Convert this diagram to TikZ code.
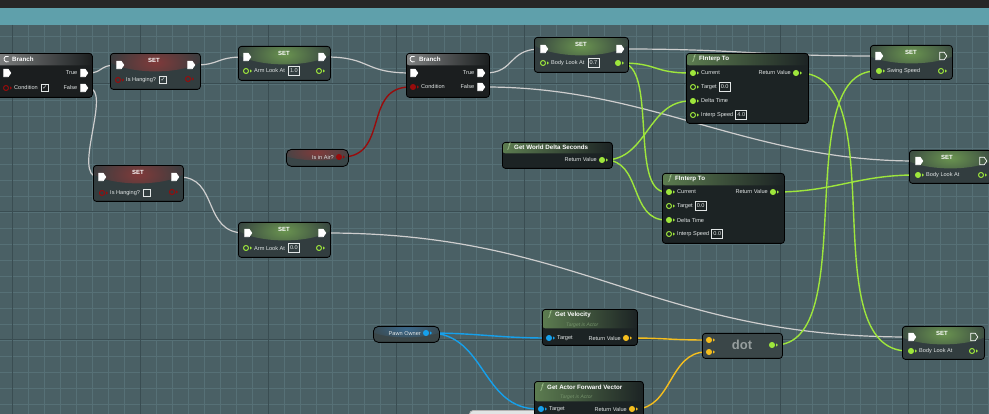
\documentclass[tikz,border=0pt]{standalone}
\usepackage{fontspec}
\setmainfont{Liberation Sans}
\newfontfamily\symfont{DejaVu Sans}
\usetikzlibrary{positioning, shapes.symbols}

\definecolor{topdark}{RGB}{38,38,38}
\definecolor{topbar}{RGB}{95,160,171}
\definecolor{gridbg}{RGB}{74,96,101}
\definecolor{gridminor}{RGB}{86,112,118}
\definecolor{gridmajor}{RGB}{58,77,82}
\definecolor{setbody}{RGB}{50,61,63}
\definecolor{getbody}{RGB}{58,70,72}
\definecolor{fnbody}{RGB}{28,35,36}
\definecolor{brbody}{RGB}{27,30,31}
\definecolor{brhead}{RGB}{128,130,130}
\definecolor{fnhead}{RGB}{92,124,80}
\definecolor{glowred}{RGB}{128,58,58}
\definecolor{glowgreen}{RGB}{106,148,80}
\definecolor{glowblue}{RGB}{58,104,140}
\definecolor{pintext}{RGB}{226,230,230}
\definecolor{fsymcol}{RGB}{190,225,170}
\definecolor{subcol}{RGB}{118,148,108}
\definecolor{dottxt}{RGB}{150,158,158}
\definecolor{execwire}{RGB}{206,206,206}
\definecolor{floatcol}{RGB}{158,230,60}
\definecolor{boolcol}{RGB}{152,12,12}
\definecolor{objcol}{RGB}{22,160,235}
\definecolor{veccol}{RGB}{245,190,30}
\definecolor{hidbody}{RGB}{225,228,228}

\newcommand{\bppinfont}{\fontsize{5.6}{6}\selectfont}
\newcommand{\bptitlefont}{\fontsize{6.2}{7}\selectfont\bfseries}
\newcommand{\bpsetfont}{\fontsize{6}{6}\selectfont\bfseries}
\newcommand{\bpsubfont}{\fontsize{5}{5}\selectfont\itshape}
% exec pin: name, position, look
\newcommand{\xpin}[3]{\node[xpin, #3] (#1) at (#2) {};}
% data pin: name, position, colour, inner colour
\newcommand{\dpin}[4]{%
  \node[dpin, draw=#3, fill=#4] (#1) at (#2) {};
  \fill[#3] ([xshift=1pt, yshift=1.6pt]#1.east) -- ++(0,3.2) -- ++(2,-1.6) -- cycle;}

\pgfdeclarelayer{grid}
\pgfdeclarelayer{wires}
\pgfsetlayers{grid,wires,main}

\begin{document}
\begin{tikzpicture}[x=1pt, y=-1pt,
    bpbox/.style={draw=black, line width=.8pt, rounded corners=3pt, anchor=north west, inner sep=0},
    brbox/.style={bpbox, fill=brbody, path picture={\shade[left color=brhead, right color=brbody] (path picture bounding box.north west) rectangle ([yshift=-12pt]path picture bounding box.north east);}},
    setbox/.style={bpbox, fill=setbody, path picture={\shade[inner color=#1, outer color=setbody] (path picture bounding box.north) ellipse [x radius=52pt, y radius=18pt];}},
    fnbox/.style={bpbox, fill=fnbody, path picture={\shade[left color=fnhead, right color=fnbody] (path picture bounding box.north west) rectangle ([yshift=-#1]path picture bounding box.north east);}},
    fnbox/.default=12pt,
    getbox/.style={bpbox, rounded corners=5pt, fill=getbody, path picture={\shade[inner color=#1, outer color=getbody] (path picture bounding box.north) ellipse [x radius=40pt, y radius=11pt];}},
    xpin/.style={shape=signal, signal to=east, signal pointer angle=110, minimum width=7, minimum height=7.5, inner sep=0, line width=.7pt},
    xfull/.style={fill=white, draw=white},
    xopen/.style={draw=white},
    dpin/.style={circle, inner sep=0, minimum size=5, line width=1pt},
    pintxt/.style={font=\bppinfont, text=pintext, inner sep=0},
    settxt/.style={font=\bpsetfont, text=white, inner sep=0},
    fntxt/.style={font=\bptitlefont, text=white, inner sep=0, anchor=west},
    fsym/.style={text=fsymcol, inner sep=0, font=\fontsize{8}{8}\selectfont},
    subtxt/.style={font=\bpsubfont, text=subcol, inner sep=0, anchor=west},
    valbox/.style={draw=pintext, line width=.5pt, font=\bppinfont, text=pintext, inner sep=1.2pt, minimum width=11, minimum height=9},
    chkbox/.style={draw=pintext, line width=.6pt, minimum size=7, inner sep=0, font=\symfont\fontsize{6}{6}\selectfont, text=pintext},
    xwire/.style={line width=1.2pt, draw=execwire},
    dwire/.style={line width=1.4pt, draw=#1}
]
\useasboundingbox (0,0) rectangle (989,414);

% --- Canvas ---
\begin{pgfonlayer}{grid}
\fill[topdark] (0,0) rectangle (989,8);
\fill[topbar] (0,8) rectangle (989,25);
\fill[gridbg] (0,25) rectangle (989,414);
\foreach \gx in {12,28,...,988} \draw[gridminor, line width=.6pt] (\gx,25) -- (\gx,414);
\foreach \gy in {36,52,...,412} \draw[gridminor, line width=.6pt] (0,\gy) -- (989,\gy);
\foreach \gx in {12,140,...,908} \draw[gridmajor, line width=1pt] (\gx,25) -- (\gx,414);
\foreach \gy in {84,212,340} \draw[gridmajor, line width=1pt] (0,\gy) -- (989,\gy);
\end{pgfonlayer}

% --- Branch (left edge) ---
\node[brbox, minimum width=98, minimum height=44] (br1) at (-6,53) {};
\draw[white, line width=.8pt] (8.5,61.6) arc[start angle=60, end angle=300, radius=3];
\node[fntxt] (br1t) at (12,59) {Branch};
\xpin{br1in}{6,73}{xfull}
\xpin{br1tr}{83,73}{xfull}
\node[pintxt, left=3pt of br1tr] (br1trl) {True};
\dpin{br1c}{6,88}{boolcol}{brbody}
\node[pintxt, right=5pt of br1c] (br1cl) {Condition};
\node[chkbox, right=3pt of br1cl] (br1cb) {✓};
\xpin{br1fa}{83,88}{xfull}
\node[pintxt, left=3pt of br1fa] (br1fal) {False};

% --- SET Is Hanging? (checked) ---
\node[setbox=glowred, minimum width=90, minimum height=36] (seth1) at (110,53) {};
\node[settxt] (seth1t) at (154,60) {SET};
\xpin{seth1in}{119,65}{xfull}
\xpin{seth1out}{190,65}{xfull}
\dpin{seth1p}{118,80}{boolcol}{setbody}
\node[pintxt, right=5pt of seth1p] (seth1l) {Is Hanging?};
\node[chkbox, right=3pt of seth1l] (seth1cb) {✓};
\dpin{seth1o}{188,79}{boolcol}{setbody}

% --- SET Is Hanging? (unchecked) ---
\node[setbox=glowred, minimum width=90, minimum height=36] (seth2) at (93,165) {};
\node[settxt] (seth2t) at (138,172) {SET};
\xpin{seth2in}{101,177}{xfull}
\xpin{seth2out}{174,177}{xfull}
\dpin{seth2p}{102,193}{boolcol}{setbody}
\node[pintxt, right=5pt of seth2p] (seth2l) {Is Hanging?};
\node[chkbox, right=3pt of seth2l] (seth2cb) {};
\dpin{seth2o}{172,192}{boolcol}{setbody}

% --- SET Arm Look At 1.0 ---
\node[setbox=glowgreen, minimum width=92, minimum height=34] (al1) at (238,46) {};
\node[settxt] (al1t) at (284,53) {SET};
\xpin{al1in}{246,57}{xfull}
\xpin{al1out}{321,57}{xfull}
\dpin{al1p}{246,71}{floatcol}{setbody}
\node[pintxt, right=5pt of al1p] (al1l) {Arm Look At};
\node[valbox, right=3pt of al1l] (al1v) {1.0};
\dpin{al1o}{319,71}{floatcol}{setbody}

% --- SET Arm Look At 0.0 ---
\node[setbox=glowgreen, minimum width=92, minimum height=35] (al0) at (238,222) {};
\node[settxt] (al0t) at (284,229) {SET};
\xpin{al0in}{247,233}{xfull}
\xpin{al0out}{321,233}{xfull}
\dpin{al0p}{246,248}{floatcol}{setbody}
\node[pintxt, right=5pt of al0p] (al0l) {Arm Look At};
\node[valbox, right=3pt of al0l] (al0v) {0.0};
\dpin{al0o}{319,248}{floatcol}{setbody}

% --- Is in Air? ---
\node[getbox=glowred, minimum width=62, minimum height=17] (air) at (286,149) {};
\node[pintxt, anchor=east] (airl) at (334,157.5) {Is in Air?};
\dpin{airp}{339,157}{boolcol}{boolcol}

% --- Branch ---
\node[brbox, minimum width=83, minimum height=44] (br2) at (406,53) {};
\draw[white, line width=.8pt] (414.5,61.6) arc[start angle=60, end angle=300, radius=3];
\node[fntxt] (br2t) at (419,59) {Branch};
\xpin{br2in}{413,73}{xfull}
\xpin{br2tr}{480,73}{xfull}
\node[pintxt, left=3pt of br2tr] (br2trl) {True};
\dpin{br2c}{413,87}{boolcol}{boolcol}
\node[pintxt, right=5pt of br2c] (br2cl) {Condition};
\xpin{br2fa}{480,87}{xfull}
\node[pintxt, left=3pt of br2fa] (br2fal) {False};

% --- SET Body Look At 0.7 ---
\node[setbox=glowgreen, minimum width=94, minimum height=35] (bl7) at (534,37) {};
\node[settxt] (bl7t) at (581,44) {SET};
\xpin{bl7in}{543,49}{xfull}
\xpin{bl7out}{619,49}{xfull}
\dpin{bl7p}{543,63}{floatcol}{setbody}
\node[pintxt, right=5pt of bl7p] (bl7l) {Body Look At};
\node[valbox, right=3pt of bl7l] (bl7v) {0.7};
\dpin{bl7o}{618,63}{floatcol}{floatcol}

% --- Get World Delta Seconds ---
\node[fnbox=11pt, minimum width=110, minimum height=26] (gwds) at (502,142) {};
\node[fsym] (gwdsf) at (509,147) {$f$};
\node[fntxt] (gwdst) at (514,147) {Get World Delta Seconds};
\dpin{gwdsr}{602,160}{floatcol}{floatcol}
\node[pintxt, left=2pt of gwdsr] (gwdsrl) {Return Value};

% --- FInterp To (upper) ---
\node[fnbox, minimum width=122, minimum height=70] (fi1) at (686,53) {};
\node[fsym] (fi1f) at (694,59) {$f$};
\node[fntxt] (fi1t) at (699,59) {FInterp To};
\dpin{fi1cur}{693,73}{floatcol}{floatcol}
\node[pintxt, right=5pt of fi1cur] (fi1curl) {Current};
\dpin{fi1tg}{693,87}{floatcol}{fnbody}
\node[pintxt, right=5pt of fi1tg] (fi1tgl) {Target};
\node[valbox, right=2pt of fi1tgl] (fi1tgv) {0.0};
\dpin{fi1dt}{693,101}{floatcol}{floatcol}
\node[pintxt, right=5pt of fi1dt] (fi1dtl) {Delta Time};
\dpin{fi1is}{693,115}{floatcol}{fnbody}
\node[pintxt, right=5pt of fi1is] (fi1isl) {Interp Speed};
\node[valbox, right=2pt of fi1isl] (fi1isv) {4.0};
\dpin{fi1r}{796,73}{floatcol}{floatcol}
\node[pintxt, left=2pt of fi1r] (fi1rl) {Return Value};

% --- FInterp To (lower) ---
\node[fnbox, minimum width=122, minimum height=70] (fi2) at (662,173) {};
\node[fsym] (fi2f) at (670,179) {$f$};
\node[fntxt] (fi2t) at (675,179) {FInterp To};
\dpin{fi2cur}{669,192}{floatcol}{floatcol}
\node[pintxt, right=5pt of fi2cur] (fi2curl) {Current};
\dpin{fi2tg}{669,206}{floatcol}{fnbody}
\node[pintxt, right=5pt of fi2tg] (fi2tgl) {Target};
\node[valbox, right=2pt of fi2tgl] (fi2tgv) {0.0};
\dpin{fi2dt}{669,220}{floatcol}{floatcol}
\node[pintxt, right=5pt of fi2dt] (fi2dtl) {Delta Time};
\dpin{fi2is}{669,234}{floatcol}{fnbody}
\node[pintxt, right=5pt of fi2is] (fi2isl) {Interp Speed};
\node[valbox, right=2pt of fi2isl] (fi2isv) {0.0};
\dpin{fi2r}{773,192}{floatcol}{floatcol}
\node[pintxt, left=2pt of fi2r] (fi2rl) {Return Value};

% --- SET Swing Speed ---
\node[setbox=glowgreen, minimum width=82, minimum height=34] (ss) at (870,45) {};
\node[settxt] (sst) at (911,52) {SET};
\xpin{ssin}{878,56}{xfull}
\xpin{ssout}{942,56}{xopen}
\dpin{ssp}{879,71}{floatcol}{floatcol}
\node[pintxt, right=5pt of ssp] (ssl) {Swing Speed};
\dpin{sso}{941,71}{floatcol}{setbody}

% --- SET Body Look At (middle) ---
\node[setbox=glowgreen, minimum width=82, minimum height=33] (setm) at (909,150) {};
\node[settxt] (setmt) at (947,157) {SET};
\xpin{setmin}{918,161}{xfull}
\xpin{setmout}{982,161}{xopen}
\dpin{setmp}{918,175}{floatcol}{floatcol}
\node[pintxt, right=5pt of setmp] (setml) {Body Look At};
\dpin{setmo}{981,175}{floatcol}{setbody}

% --- Pawn Owner ---
\node[getbox=glowblue, minimum width=66, minimum height=16] (pawn) at (373,326) {};
\node[pintxt, anchor=east] (pawnl) at (421,333.5) {Pawn Owner};
\dpin{pawnp}{426,333}{objcol}{objcol}

% --- Get Velocity ---
\node[fnbox=19pt, minimum width=95, minimum height=36] (gv) at (542,309) {};
\node[fsym] (gvf) at (550,315) {$f$};
\node[fntxt] (gvt) at (555,315) {Get Velocity};
\node[subtxt] (gvs) at (566,325) {Target is Actor};
\dpin{gvtg}{549,338}{objcol}{objcol}
\node[pintxt, right=5pt of gvtg] (gvtgl) {Target};
\dpin{gvr}{626,338}{veccol}{veccol}
\node[pintxt, left=2pt of gvr] (gvrl) {Return Value};

% --- hidden node under the bottom edge ---
\node[bpbox, draw=gray!60, rounded corners=4pt, fill=hidbody, minimum width=130, minimum height=14] (hid) at (469,410) {};

% --- Get Actor Forward Vector ---
\node[fnbox=20pt, minimum width=109, minimum height=40] (gaf) at (534,381) {};
\node[fsym] (gaff) at (542,387) {$f$};
\node[fntxt] (gaft) at (547,387) {Get Actor Forward Vector};
\node[subtxt] (gafs) at (560,397) {Target is Actor};
\dpin{gaftg}{541,409}{objcol}{objcol}
\node[pintxt, right=5pt of gaftg] (gaftgl) {Target};
\dpin{gafr}{632,409}{veccol}{veccol}
\node[pintxt, left=2pt of gafr] (gafrl) {Return Value};

% --- dot ---
\node[bpbox, fill=getbody, minimum width=80, minimum height=25] (dotn) at (702,333) {};
\node[font=\fontsize{13}{13}\selectfont\bfseries, text=dottxt, inner sep=0] (dotl) at (742,345) {dot};
\dpin{dota}{709,340}{veccol}{veccol}
\dpin{dotb}{709,352}{veccol}{veccol}
\dpin{doto}{772,345}{floatcol}{floatcol}

% --- SET Body Look At (bottom) ---
\node[setbox=glowgreen, minimum width=82, minimum height=33] (setb) at (902,326) {};
\node[settxt] (setbt) at (942,333) {SET};
\xpin{setbin}{911,337}{xfull}
\xpin{setbout}{973,337}{xopen}
\dpin{setbp}{911,351}{floatcol}{floatcol}
\node[pintxt, right=5pt of setbp] (setbl) {Body Look At};
\dpin{setbo}{972,351}{floatcol}{setbody}

% --- Wires ---
\begin{pgfonlayer}{wires}
\draw[xwire] (br1tr) .. controls +(20,0) and +(-20,0) .. (seth1in);
\draw[xwire] (seth1out) .. controls +(30,0) and +(-30,0) .. (al1in);
\draw[xwire] (al1out) .. controls +(50,0) and +(-50,0) .. (br2in);
\draw[xwire] (br1fa) .. controls +(30,0) and +(-30,0) .. (seth2in);
\draw[xwire] (seth2out) .. controls +(45,0) and +(-45,0) .. (al0in);
\draw[xwire] (al0out) .. controls +(260,0) and +(-260,0) .. (setbin);
\draw[xwire] (br2tr) .. controls +(35,0) and +(-35,0) .. (bl7in);
\draw[xwire] (bl7out) .. controls +(120,0) and +(-120,0) .. (ssin);
\draw[xwire] (br2fa) .. controls +(170,0) and +(-170,0) .. (setmin);
\draw[dwire=boolcol] (airp) .. controls +(50,0) and +(-50,0) .. (br2c);
\draw[dwire=floatcol] (bl7o) .. controls +(40,0) and +(-40,0) .. (fi1cur);
\draw[dwire=floatcol] (bl7o) .. controls +(40,0) and +(-40,0) .. (fi2cur);
\draw[dwire=floatcol] (gwdsr) .. controls +(45,0) and +(-45,0) .. (fi1dt);
\draw[dwire=floatcol] (gwdsr) .. controls +(40,0) and +(-40,0) .. (fi2dt);
\draw[dwire=floatcol] (fi1r) .. controls +(100,0) and +(-100,0) .. (setbp);
\draw[dwire=floatcol] (fi2r) .. controls +(60,0) and +(-60,0) .. (setmp);
\draw[dwire=floatcol] (doto) .. controls +(90,0) and +(-90,0) .. (ssp);
\draw[dwire=objcol] (pawnp) .. controls +(50,0) and +(-50,0) .. (gvtg);
\draw[dwire=objcol] (pawnp) .. controls +(60,0) and +(-60,0) .. (gaftg);
\draw[dwire=veccol] (gvr) .. controls +(40,0) and +(-40,0) .. (dota);
\draw[dwire=veccol] (gafr) .. controls +(40,0) and +(-40,0) .. (dotb);
\end{pgfonlayer}

\end{tikzpicture}
\end{document}
